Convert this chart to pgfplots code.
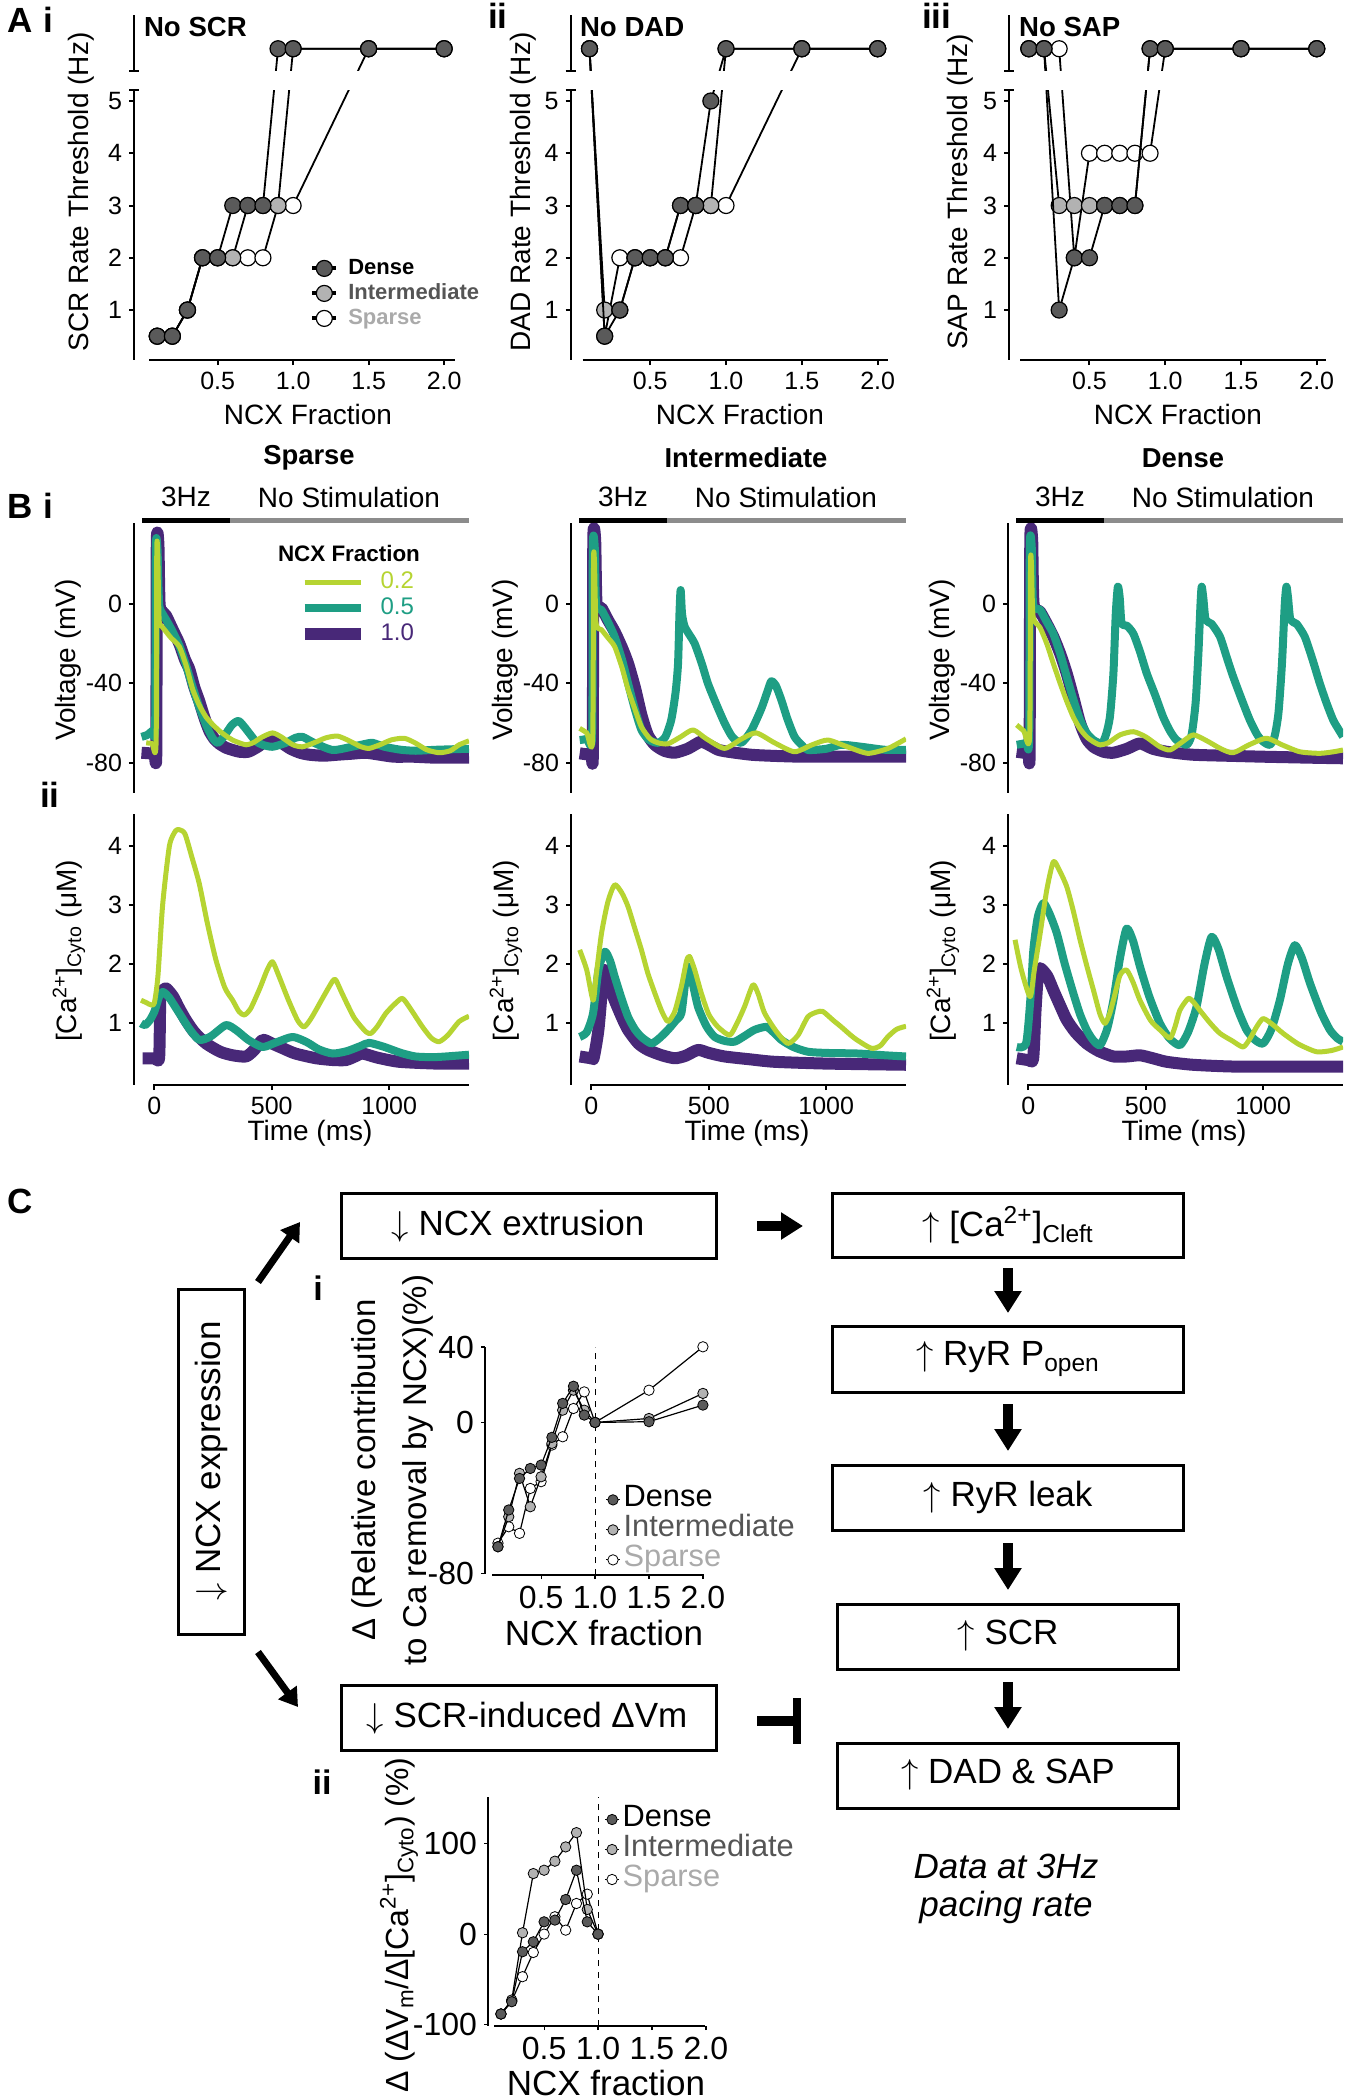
\documentclass[border=0pt]{standalone}
\usepackage{fontspec}
\setmainfont{Liberation Sans}
\usepackage{pgfplots}
\usepackage{pgfplotstable}
\pgfplotsset{compat=1.18}
\usetikzlibrary{arrows.meta}

\definecolor{cLime}{RGB}{182,212,50}
\definecolor{cTeal}{RGB}{30,158,132}
\definecolor{cPurp}{RGB}{72,40,120}
\definecolor{mDark}{RGB}{90,90,90}
\definecolor{mLight}{RGB}{178,178,178}
\definecolor{tMid}{RGB}{85,85,85}
\definecolor{tLight}{RGB}{170,170,170}
\definecolor{barGray}{RGB}{140,140,140}

\newcommand{\fs}[2]{\fontsize{#1}{#2}\selectfont}

\pgfplotstableread{
x d i s
0.1 0.5 0.5 0.5
0.2 0.5 0.5 0.5
0.3 1 1 1
0.4 2 2 2
0.5 2 2 2
0.6 3 2 2
0.7 3 3 2
0.8 3 3 2
0.9 6 3 3
1.0 6 6 3
1.5 6 6 6
2.0 6 6 6
}\scrT
\pgfplotstableread{
x d i s
0.1 6 6 6
0.2 0.5 1 0.5
0.3 1 1 2
0.4 2 2 2
0.5 2 2 2
0.6 2 2 2
0.7 3 3 2
0.8 3 3 3
0.9 5 3 3
1.0 6 6 3
1.5 6 6 6
2.0 6 6 6
}\dadT
\pgfplotstableread{
x d i s
0.1 6 6 6
0.2 6 6 6
0.3 1 3 6
0.4 2 3 2
0.5 2 3 4
0.6 3 3 4
0.7 3 3 4
0.8 3 3 4
0.9 6 6 4
1.0 6 6 6
1.5 6 6 6
2.0 6 6 6
}\sapT
\pgfplotstableread{
x d i s
0.1 -65.9 -65.9 -64
0.2 -46.4 -50 -55.3
0.3 -29.7 -27 -58.8
0.4 -24.4 -44.7 -35
0.5 -22.6 -28.8 -31.4
0.6 -7.9 -11.1 -12
0.7 10.1 6.5 -7.6
0.8 19.2 17.1 7.4
0.9 3.9 6.5 16.2
1.0 0 0 0
1.5 0.4 2.1 17.1
2.0 9.2 15.4 40.1
}\ciT
\pgfplotstableread{
x d i s
0.1 -88.4 -88.4 -88.4
0.2 -74.8 -72.9 -74
0.3 -19.5 1.5 -47.1
0.4 -8.5 67 -20.3
0.5 13.6 70.7 0
0.6 15.5 80.7 19.2
0.7 38.3 96.5 4.4
0.8 70.7 112.3 33.9
0.9 13.6 27.3 44.2
1.0 0 0 0
}\ciiT

\pgfplotsset{
 base/.style={scale only axis, anchor=south west, axis lines*=left, axis line style={draw=none},
   tick align=outside, major tick length=2.5pt, tick style={black, line width=1pt},
   clip marker paths=true, tick label style={font=\fs{12.5pt}{14pt}}},
 Dn/.style={black, line width=0.9pt, mark=*, mark size=4pt, mark options={fill=mDark, draw=black, line width=0.6pt}},
 In/.style={black, line width=0.9pt, mark=*, mark size=4pt, mark options={fill=mLight, draw=black, line width=0.6pt}},
 Sp/.style={black, line width=0.9pt, mark=*, mark size=4pt, mark options={fill=white, draw=black, line width=0.6pt}},
 Alow/.style={base, height=135pt, ymin=0.044, ymax=5.21, xtick={0.5,1,1.5,2}, xticklabels={0.5,1.0,1.5,2.0}, ytick={1,2,3,4,5}, yticklabels={1,2,3,4,5}},
 Aup/.style={base, height=27.85pt, ymin=5.58, ymax=6.645, xtick=\empty, ytick=\empty},
 Vax/.style={base, width=167.5pt, height=135pt, xmin=-87, xmax=1340, ymin=-95.3, ymax=40.8, xtick=\empty, ytick={-80,-40,0}, yticklabels={-80,-40,0}},
 Cax/.style={base, width=167.5pt, height=135.5pt, xmin=-87, xmax=1340, ymin=-0.042, ymax=4.535, xtick={0,500,1000}, xticklabels={0,500,1000}, ytick={1,2,3,4}, yticklabels={1,2,3,4}},
 P1/.style={cPurp, line width=6pt, line join=round, smooth, tension=0.4},
 P5/.style={cTeal, line width=4pt, line join=round, smooth, tension=0.4},
 P2/.style={cLime, line width=2.5pt, line join=round, smooth, tension=0.4},
 Csub/.style={base, clip=false, width=109.5pt, xmin=-0.02, xmax=2.01, tick style={black, line width=0.6pt}, major tick length=2pt,
   tick label style={font=\fs{16pt}{18pt}}, xtick={0.5,1,1.5,2}, xticklabels={0.5,1.0,1.5,2.0}},
 cD/.style={black, line width=0.6pt, mark=*, mark size=2.6pt, mark options={fill=mDark, draw=black, line width=0.4pt}},
 cI/.style={black, line width=0.6pt, mark=*, mark size=2.6pt, mark options={fill=mLight, draw=black, line width=0.4pt}},
 cS/.style={black, line width=0.6pt, mark=*, mark size=2.6pt, mark options={fill=white, draw=black, line width=0.4pt}},
}

\begin{document}
\begin{tikzpicture}
\path[use as bounding box] (0,0) rectangle (673.5pt,-1050pt);

%================ PANEL A =================
% A i
\begin{axis}[Alow, at={(67pt,-180pt)}, width=160.5pt, xmin=-0.054, xmax=2.072,
  legend style={at={(rel axis cs:0.548,0.387)}, anchor=north west, draw=none, fill=none, inner sep=0pt, row sep=0pt,
    nodes={inner sep=1pt, text height=8.5pt, text depth=2pt}, font=\bfseries\fs{11pt}{12pt}, column sep=4pt},
  legend cell align=left, reverse legend,
  legend image code/.code={\draw[#1, line width=2pt, mark repeat=2, mark phase=2] plot coordinates {(0pt,0pt)(6pt,0pt)(12pt,0pt)};}]
\addplot[Sp] table[x=x,y=s] {\scrT}; \addlegendentry{\textcolor{tLight}{Sparse}}
\addplot[In] table[x=x,y=i] {\scrT}; \addlegendentry{\textcolor{tMid}{Intermediate}}
\addplot[Dn] table[x=x,y=d] {\scrT}; \addlegendentry{Dense}
\end{axis}
\begin{axis}[Aup, at={(67pt,-35.35pt)}, width=160.5pt, xmin=-0.054, xmax=2.072]
\addplot[Sp] table[x=x,y=s] {\scrT};
\addplot[In] table[x=x,y=i] {\scrT};
\addplot[Dn] table[x=x,y=d] {\scrT};
\end{axis}
% A ii
\begin{axis}[Alow, at={(285.35pt,-180pt)}, width=158.5pt, xmin=-0.024, xmax=2.066]
\addplot[Sp] table[x=x,y=s] {\dadT};
\addplot[In] table[x=x,y=i] {\dadT};
\addplot[Dn] table[x=x,y=d] {\dadT};
\end{axis}
\begin{axis}[Aup, at={(285.35pt,-35.35pt)}, width=158.5pt, xmin=-0.024, xmax=2.066]
\addplot[Sp] table[x=x,y=s] {\dadT};
\addplot[In] table[x=x,y=i] {\dadT};
\addplot[Dn] table[x=x,y=d] {\dadT};
\end{axis}
% A iii
\begin{axis}[Alow, at={(504.5pt,-180pt)}, width=158.5pt, xmin=-0.031, xmax=2.061]
\addplot[Sp] table[x=x,y=s] {\sapT};
\addplot[In] table[x=x,y=i] {\sapT};
\addplot[Dn] table[x=x,y=d] {\sapT};
\end{axis}
\begin{axis}[Aup, at={(504.5pt,-35.35pt)}, width=158.5pt, xmin=-0.031, xmax=2.061]
\addplot[Sp] table[x=x,y=s] {\sapT};
\addplot[In] table[x=x,y=i] {\sapT};
\addplot[Dn] table[x=x,y=d] {\sapT};
\end{axis}

%================ PANEL B =================
% Sparse voltage
\begin{axis}[Vax, at={(67pt,-396.5pt)},
  legend style={at={(rel axis cs:0.49,0.83)}, anchor=north west, draw=none, fill=none, inner sep=0pt, row sep=0pt,
    nodes={inner sep=1pt, text height=8.5pt, text depth=2.5pt}, font=\fs{12pt}{13pt}, column sep=6pt},
  legend cell align=left, reverse legend,
  legend image code/.code={\draw[#1] (0pt,0pt) -- (28pt,0pt);}]
\addplot[P1] coordinates {(-55,-75)(-20,-75.3)(0,-75.5)(8,-75)(10,30)(17,30)(22,0)(35,-4)(50,-6)(78,-13)(106,-20)(130,-28)(149,-33)(170,-42)(191,-49)(212,-57)(234,-64)(255,-68)(277,-70.5)(305,-72.5)(333,-73.6)(362,-74.5)(400,-74.5)(440,-72)(470,-69.5)(503,-68.6)(540,-70)(580,-73)(620,-75)(660,-76)(720,-76.5)(780,-76)(840,-75.5)(900,-75)(960,-76)(1020,-77)(1100,-77)(1200,-77.5)(1340,-77.5)};
\addlegendentry{\textcolor{cPurp}{1.0}}
\addplot[P5] coordinates {(-55,-67)(-30,-66)(-10,-64)(3,-62)(6,28)(13,28)(20,0)(35,-5)(50,-8)(78,-14)(106,-21)(135,-31)(163,-42)(191,-52)(220,-61)(248,-67.7)(270,-70)(295,-67)(330,-61)(359,-59)(390,-63)(430,-69)(461,-71)(503,-72)(560,-70)(600,-67.5)(631,-67)(680,-70)(759,-73.6)(840,-72)(900,-70.5)(929,-70)(980,-72)(1050,-73.5)(1113,-74)(1200,-73.5)(1340,-73)};
\addlegendentry{\textcolor{cTeal}{0.5}}
\addplot[P2] coordinates {(-35,-70)(-10,-70.3)(7,-70.3)(10,26)(14,26)(20,-8)(30,-11)(43,-13)(70,-17)(106,-21.5)(135,-31)(163,-43)(191,-51)(220,-57)(250,-61)(277,-64)(305,-66.5)(333,-68.6)(362,-70)(390,-71)(420,-70)(460,-67)(503,-65)(540,-67)(590,-71)(631,-72)(680,-70)(730,-67.5)(780,-66.6)(830,-69)(880,-72)(915,-72.8)(960,-71)(1010,-68.5)(1064,-67.7)(1110,-70)(1160,-73.5)(1213,-75)(1260,-74)(1298,-71)(1340,-69)};
\addlegendentry{\textcolor{cLime}{0.2}}
\end{axis}
% Sparse Ca
\begin{axis}[Cax, at={(67pt,-542.5pt)}]
\addplot[P1] coordinates {(-50,0.41)(0,0.41)(20,0.42)(25,1.4)(35,1.55)(50,1.59)(80,1.45)(106,1.25)(135,1.05)(170,0.85)(220,0.66)(280,0.52)(333,0.46)(390,0.44)(425,0.55)(461,0.72)(500,0.66)(546,0.58)(600,0.49)(688,0.41)(760,0.38)(816,0.38)(860,0.45)(887,0.49)(950,0.42)(1043,0.35)(1200,0.32)(1340,0.32)};
\addplot[P5] coordinates {(-57,1.0)(-40,0.97)(-20,1.05)(0,1.2)(20,1.45)(35,1.53)(60,1.45)(106,1.17)(150,0.9)(191,0.72)(240,0.78)(305,0.97)(350,0.88)(400,0.72)(461,0.60)(520,0.68)(589,0.77)(650,0.68)(700,0.56)(759,0.49)(820,0.53)(880,0.62)(915,0.67)(980,0.6)(1050,0.5)(1113,0.44)(1200,0.43)(1340,0.47)};
\addplot[P2] coordinates {(-57,1.39)(-35,1.35)(-14,1.31)(0,1.35)(15,1.8)(35,3.0)(64,4.0)(90,4.25)(106,4.27)(130,4.2)(160,3.8)(191,3.36)(225,2.7)(262,2.07)(300,1.6)(333,1.39)(360,1.2)(383,1.14)(410,1.25)(450,1.6)(480,1.9)(503,2.04)(530,1.8)(570,1.4)(610,1.05)(638,0.94)(670,1.1)(720,1.45)(760,1.72)(773,1.73)(800,1.5)(850,1.1)(900,0.86)(922,0.83)(950,0.95)(986,1.17)(1030,1.35)(1057,1.42)(1090,1.25)(1140,0.95)(1180,0.75)(1213,0.69)(1250,0.8)(1298,1.03)(1340,1.12)};
\end{axis}

% Intermediate voltage
\begin{axis}[Vax, at={(285.5pt,-396.5pt)}]
\addplot[P1] coordinates {(-50,-75.3)(-20,-75.8)(0,-76)(6,-75)(8,32)(16,32)(22,0)(43,-2)(70,-8)(99,-14)(130,-22)(156,-30)(185,-42)(213,-56)(240,-66)(270,-71)(310,-74)(355,-75)(410,-73)(440,-71)(468,-69.4)(500,-71)(540,-73.5)(582,-74.5)(680,-76)(780,-76.6)(900,-77)(1100,-77)(1340,-77)};
\addplot[P5] coordinates {(-50,-68.6)(-20,-68)(3,-66)(6,29)(14,29)(20,0)(43,-3)(70,-9)(99,-16.5)(130,-28)(156,-40)(185,-53)(213,-63.5)(245,-68.5)(284,-70)(315,-67)(340,-58.5)(358,-45)(369,-30)(375,-5)(380,7)(386,-5)(397,-11.4)(420,-16)(440,-20)(470,-30)(496,-40)(530,-50)(567,-60)(600,-67)(638,-70)(680,-64)(723,-53)(750,-44)(766,-39)(785,-41)(809,-48.4)(835,-58)(865,-66.9)(895,-71)(922,-73.6)(1000,-73)(1064,-71)(1150,-72)(1250,-73.5)(1340,-73.6)};
\addplot[P2] coordinates {(-50,-62.7)(-20,-65)(5,-68.6)(9,21)(13,21)(20,-9.7)(43,-13)(70,-17)(99,-21.5)(130,-32)(156,-43)(185,-53)(213,-62)(250,-68)(284,-70)(326,-70.5)(380,-67)(433,-63.5)(490,-68)(567,-72.8)(640,-68)(702,-65)(780,-70)(865,-74.5)(940,-71)(1007,-68.6)(1090,-72)(1177,-75.3)(1260,-73)(1319,-69.4)(1340,-68)};
\end{axis}
% Intermediate Ca
\begin{axis}[Cax, at={(285.5pt,-542.5pt)}]
\addplot[P1] coordinates {(-50,0.44)(0,0.41)(10,0.42)(30,0.9)(50,1.8)(57,1.90)(80,1.6)(99,1.39)(130,1.1)(156,0.89)(200,0.66)(241,0.55)(300,0.46)(355,0.41)(400,0.45)(454,0.55)(500,0.5)(567,0.44)(680,0.39)(780,0.35)(1000,0.32)(1340,0.30)};
\addplot[P5] coordinates {(-50,0.77)(-20,0.85)(7,1.17)(30,1.9)(57,2.21)(80,2.05)(99,1.79)(130,1.4)(156,1.11)(185,0.9)(213,0.77)(255,0.66)(290,0.75)(326,0.89)(360,1.05)(383,1.17)(400,1.7)(414,1.96)(430,1.7)(454,1.28)(490,0.95)(525,0.77)(570,0.7)(610,0.69)(650,0.78)(695,0.89)(745,0.94)(775,0.85)(809,0.72)(860,0.6)(922,0.52)(1000,0.5)(1135,0.49)(1250,0.46)(1340,0.44)};
\addplot[P2] coordinates {(-50,2.24)(-20,1.9)(7,1.39)(20,1.8)(43,2.52)(70,3.05)(99,3.34)(130,3.2)(156,2.97)(185,2.6)(213,2.24)(240,1.85)(270,1.51)(300,1.2)(326,1.03)(355,1.2)(383,1.62)(405,2.05)(418,2.13)(440,1.9)(468,1.51)(500,1.15)(539,0.94)(589,0.80)(620,1.0)(652,1.28)(688,1.65)(710,1.5)(738,1.17)(790,0.85)(837,0.66)(880,0.8)(922,1.11)(960,1.19)(986,1.20)(1030,1.05)(1064,0.94)(1120,0.75)(1191,0.58)(1230,0.62)(1262,0.77)(1300,0.9)(1340,0.95)};
\end{axis}

% Dense voltage
\begin{axis}[Vax, at={(504pt,-396.5pt)}]
\addplot[P1] coordinates {(-50,-74.5)(-20,-75)(0,-75.5)(5,-75)(8,32)(16,32)(22,0)(50,-4)(78,-10)(106,-16.5)(135,-25)(163,-35)(191,-47)(220,-60)(248,-68)(277,-72)(320,-74.5)(362,-75)(420,-73)(475,-70.3)(530,-73)(589,-74.5)(700,-76)(872,-76.6)(1000,-77)(1200,-77.5)(1340,-77.8)};
\addplot[P5] coordinates {(-50,-71)(-10,-70)(3,-68)(6,29)(14,29)(20,0)(50,-3)(78,-9)(106,-15)(135,-25)(163,-36.6)(191,-48)(220,-58.5)(248,-65)(277,-68.6)(312,-70.3)(330,-66)(347,-57)(362,-35)(372,-5)(381,8.7)(389,3)(397,-9.7)(420,-11)(447,-15)(475,-24)(504,-35)(540,-46)(574,-57)(603,-64)(631,-68.6)(674,-71)(695,-66)(712,-50)(724,-25)(733,0)(738,8.7)(745,3)(755,-8)(780,-10)(816,-16.5)(845,-27)(872,-36.6)(908,-48)(943,-58.5)(975,-66)(1000,-69.4)(1028,-71)(1048,-67)(1065,-55)(1080,-30)(1092,0)(1099,8.7)(1106,3)(1116,-8)(1142,-10)(1177,-16.5)(1210,-28)(1241,-40)(1270,-50)(1298,-58.5)(1320,-63)(1340,-66.9)};
\addplot[P2] coordinates {(-50,-61)(-20,-64)(5,-67)(9,19.7)(13,19.7)(20,-6.4)(50,-12)(78,-20)(106,-30)(135,-40)(163,-49)(191,-57)(220,-63)(248,-67)(277,-69.5)(305,-71)(340,-70)(390,-66)(447,-64.4)(500,-67)(560,-72)(603,-73.6)(650,-70)(702,-66)(760,-69)(820,-73)(872,-75)(940,-71)(1014,-67.7)(1080,-71)(1156,-74.5)(1241,-75.3)(1300,-74.5)(1340,-73.6)};
\end{axis}
% Dense Ca
\begin{axis}[Cax, at={(504pt,-542.5pt)}]
\addplot[P1] coordinates {(-50,0.41)(0,0.38)(20,0.4)(30,1.2)(40,1.8)(50,1.93)(80,1.8)(106,1.56)(135,1.3)(163,1.06)(200,0.85)(248,0.66)(300,0.53)(362,0.44)(420,0.44)(475,0.46)(530,0.41)(589,0.35)(700,0.3)(872,0.27)(1100,0.27)(1340,0.27)};
\addplot[P5] coordinates {(-50,0.60)(-10,0.66)(10,1.5)(21,2.24)(40,2.8)(64,3.03)(90,2.85)(121,2.52)(155,2.0)(191,1.51)(220,1.15)(248,0.89)(275,0.72)(305,0.63)(335,0.9)(362,1.39)(390,2.1)(418,2.60)(445,2.4)(475,1.96)(515,1.45)(560,1.0)(600,0.75)(645,0.63)(680,0.85)(716,1.28)(750,2.0)(780,2.46)(810,2.25)(844,1.79)(890,1.25)(929,0.89)(965,0.72)(1000,0.66)(1035,0.9)(1071,1.39)(1105,2.0)(1135,2.32)(1165,2.1)(1199,1.68)(1245,1.2)(1284,0.89)(1315,0.75)(1340,0.69)};
\addplot[P2] coordinates {(-57,2.41)(-30,1.9)(7,1.45)(25,1.9)(50,2.52)(78,3.25)(106,3.73)(130,3.6)(163,3.31)(191,2.9)(220,2.41)(250,1.95)(277,1.56)(305,1.15)(326,1.0)(345,1.15)(362,1.39)(390,1.81)(418,1.90)(445,1.7)(475,1.39)(520,1.05)(560,0.89)(603,0.75)(625,0.95)(645,1.22)(681,1.42)(705,1.35)(730,1.22)(775,1.0)(816,0.83)(870,0.7)(915,0.60)(945,0.75)(972,0.94)(1000,1.08)(1040,0.98)(1085,0.83)(1150,0.65)(1227,0.52)(1290,0.54)(1340,0.60)};
\end{axis}

%================ PANEL C plots =================
\begin{axis}[Csub, at={(242.5pt,-787.5pt)}, height=114pt, ymin=-80.9, ymax=40, ytick={-80,0,40}, yticklabels={-80,0,40},
  legend style={at={(rel axis cs:0.548,0.397)}, anchor=north west, draw=none, fill=none, inner sep=0pt, row sep=0pt,
    nodes={inner sep=0.5pt, text height=10.5pt, text depth=3.5pt}, font=\fs{15.4pt}{16pt}, column sep=1pt},
  legend cell align=left, reverse legend,
  legend image code/.code={\draw[#1, mark repeat=2, mark phase=2] plot coordinates {(0pt,0pt)(3.5pt,0pt)(7pt,0pt)};}]
\addplot[black, dashed, line width=0.5pt, forget plot] coordinates {(1,-80.9)(1,40)};
\addplot[cS] table[x=x,y=s] {\ciT}; \addlegendentry{\textcolor{tLight}{Sparse}}
\addplot[cI] table[x=x,y=i] {\ciT}; \addlegendentry{\textcolor{tMid}{Intermediate}}
\addplot[cD] table[x=x,y=d] {\ciT}; \addlegendentry{Dense}
\end{axis}
\begin{axis}[Csub, at={(244pt,-1013pt)}, height=114.5pt, ymin=-101.7, ymax=151.7, ytick={-100,0,100}, yticklabels={-100,0,100},
  legend style={at={(rel axis cs:0.53,0.969)}, anchor=north west, draw=none, fill=none, inner sep=0pt, row sep=0pt,
    nodes={inner sep=0.5pt, text height=10.5pt, text depth=3.5pt}, font=\fs{15.4pt}{16pt}, column sep=1pt},
  legend cell align=left, reverse legend,
  legend image code/.code={\draw[#1, mark repeat=2, mark phase=2] plot coordinates {(0pt,0pt)(3.5pt,0pt)(7pt,0pt)};}]
\addplot[black, dashed, line width=0.5pt, forget plot] coordinates {(1,-101.7)(1,151.7)};
\addplot[cS] table[x=x,y=s] {\ciiT}; \addlegendentry{\textcolor{tLight}{Sparse}}
\addplot[cI] table[x=x,y=i] {\ciiT}; \addlegendentry{\textcolor{tMid}{Intermediate}}
\addplot[cD] table[x=x,y=d] {\ciiT}; \addlegendentry{Dense}
\end{axis}

%================ decorations (px units) =================
\begin{scope}[x=0.5pt, y=-0.5pt]
% --- A axis lines
\foreach \L/\xs/\xe in {134/149/455, 570.7/582.7/887.7, 1009/1020/1326}{
  \draw[line width=1pt] (\L,90) -- (\L,360);
  \draw[line width=1pt] (\L,15) -- (\L,70.7);
  \draw[line width=1pt] (\L-5,70.7) -- (\L+5,70.7);
  \draw[line width=1pt] (\L-5,90) -- (\L+5,90);
  \draw[line width=1pt] (\xs,360) -- (\xe,360);
}
\node[anchor=base west, font=\bfseries\fs{17.5pt}{20pt}] at (0,32) {A};
\node[anchor=base west, font=\bfseries\fs{17.5pt}{20pt}] at (36,32) {i};
\node[anchor=base west, font=\bfseries\fs{17.5pt}{20pt}] at (481,28) {ii};
\node[anchor=base west, font=\bfseries\fs{17.5pt}{20pt}] at (915,28) {iii};
\node[anchor=west, font=\bfseries\fs{13.8pt}{16pt}] at (137,27) {No SCR};
\node[anchor=west, font=\bfseries\fs{13.8pt}{16pt}] at (573,27) {No DAD};
\node[anchor=west, font=\bfseries\fs{13.8pt}{16pt}] at (1012,27) {No SAP};
\node[rotate=90, font=\fs{14pt}{16pt}] at (81,192) {SCR Rate Threshold (Hz)};
\node[rotate=90, font=\fs{14pt}{16pt}] at (523,192) {DAD Rate Threshold (Hz)};
\node[rotate=90, font=\fs{14pt}{16pt}] at (960,192) {SAP Rate Threshold (Hz)};
\foreach \cx in {308,740,1178}{\node[font=\fs{14pt}{16pt}] at (\cx,414) {NCX Fraction};}

% --- B
\node[anchor=base west, font=\bfseries\fs{17.5pt}{20pt}] at (0,518) {B};
\node[anchor=base west, font=\bfseries\fs{17.5pt}{20pt}] at (36,518) {i};
\node[anchor=base west, font=\bfseries\fs{17.5pt}{20pt}] at (33,807) {ii};
\foreach \L/\tt in {134/Sparse, 571/Intermediate, 1008/Dense}{
  \node[font=\bfseries\fs{13.7pt}{16pt}] at (\L+175,458) {\tt};
  \node[font=\fs{14pt}{16pt}] at (\L+52,497) {3Hz};
  \node[font=\fs{14pt}{16pt}] at (\L+215,497) {No Stimulation};
  \draw[line width=2.5pt, black] (\L+8,520) -- (\L+96,520);
  \draw[line width=2.5pt, barGray] (\L+96,520) -- (\L+335,520);
  \draw[line width=1pt] (\L,523) -- (\L,793);
  \draw[line width=1pt] (\L,814) -- (\L,1085);
  \draw[line width=1pt] (\L+19,1085) -- (\L+335,1085);
  \node[rotate=90, font=\fs{14pt}{16pt}] at (\L-66,660) {Voltage (mV)};
  \node[rotate=90, font=\fs{14pt}{16pt}] at (\L-65,951) {[Ca\textsuperscript{2+}]\textsubscript{Cyto} (μM)};
  \node[font=\fs{14pt}{16pt}] at (\L+176,1133) {Time (ms)};
}
\node[font=\bfseries\fs{11.2pt}{13pt}] at (349,553) {NCX Fraction};

% --- C
\node[anchor=base west, font=\bfseries\fs{17.5pt}{20pt}] at (0,1213) {C};
\draw[line width=1.5pt] (178,1289) rectangle (244,1634);
\node[rotate=90, font=\fs{17.5pt}{20pt}] at (211,1461) {$\downarrow$ NCX expression};
\draw[line width=1.5pt] (341,1193) rectangle (716,1258);
\node[font=\fs{17.5pt}{20pt}] at (518,1226) {$\downarrow$ NCX extrusion};
\draw[line width=1.5pt] (341,1685) rectangle (716,1750);
\node[font=\fs{17.5pt}{20pt}] at (527,1718) {$\downarrow$ SCR-induced ΔVm};
\draw[line width=1.5pt] (832,1193) rectangle (1183,1257);
\node[font=\fs{17.5pt}{20pt}] at (1008,1225) {$\uparrow$ [Ca\textsuperscript{2+}]\textsubscript{Cleft}};
\draw[line width=1.5pt] (832,1326) rectangle (1183,1392);
\node[font=\fs{17.5pt}{20pt}] at (1008,1359) {$\uparrow$ RyR P\textsubscript{open}};
\draw[line width=1.5pt] (832,1465) rectangle (1183,1530);
\node[font=\fs{17.5pt}{20pt}] at (1008,1497) {$\uparrow$ RyR leak};
\draw[line width=1.5pt] (837,1604) rectangle (1178,1669);
\node[font=\fs{17.5pt}{20pt}] at (1008,1636) {$\uparrow$ SCR};
\draw[line width=1.5pt] (837,1743) rectangle (1178,1808);
\node[font=\fs{17.5pt}{20pt}] at (1008,1775) {$\uparrow$ DAD \& SAP};
\foreach \ya/\yb in {1268/1313, 1404/1451, 1543/1590, 1682/1729}{
  \draw[line width=5pt, -{Triangle[length=11pt,width=13pt]}] (1008,\ya) -- (1008,\yb);
}
\draw[line width=5pt, -{Triangle[length=11pt,width=13pt]}] (757,1226) -- (803,1226);
\draw[line width=3.5pt, -{Triangle[length=9pt,width=11pt]}] (258,1282) -- (300,1222);
\draw[line width=3.5pt, -{Triangle[length=9pt,width=11pt]}] (258,1652) -- (298,1707);
\draw[line width=5pt] (757,1721) -- (797,1721);
\draw[line width=4pt] (797,1698) -- (797,1744);
\node[font=\itshape\fs{17.5pt}{20pt}] at (1006,1866) {Data at 3Hz};
\node[font=\itshape\fs{17.5pt}{20pt}] at (1006,1907) {pacing rate};
% C sub-plot axis lines and labels
\draw[line width=0.7pt] (485,1347) -- (485,1574);
\draw[line width=0.7pt] (492,1575) -- (704,1575);
\draw[line width=0.7pt] (488,1797) -- (488,2026);
\draw[line width=0.7pt] (494,2026) -- (705,2026);
\node[font=\bfseries\fs{17pt}{20pt}] at (318,1288) {i};
\node[font=\bfseries\fs{17pt}{20pt}] at (322,1782) {ii};
\node[rotate=90, align=center, font=\fs{16.5pt}{25.5pt}] at (392,1470) {Δ (Relative contribution\\to Ca removal by NCX)(\%)};
\node[rotate=90, font=\fs{16pt}{20pt}] at (399,1925) {Δ (ΔV\textsubscript{m}/Δ[Ca\textsuperscript{2+}]\textsubscript{Cyto}) (\%)};
\node[font=\fs{17.5pt}{20pt}] at (604,1633) {NCX fraction};
\node[font=\fs{17.5pt}{20pt}] at (606,2083) {NCX fraction};
\end{scope}
\end{tikzpicture}
\end{document}
